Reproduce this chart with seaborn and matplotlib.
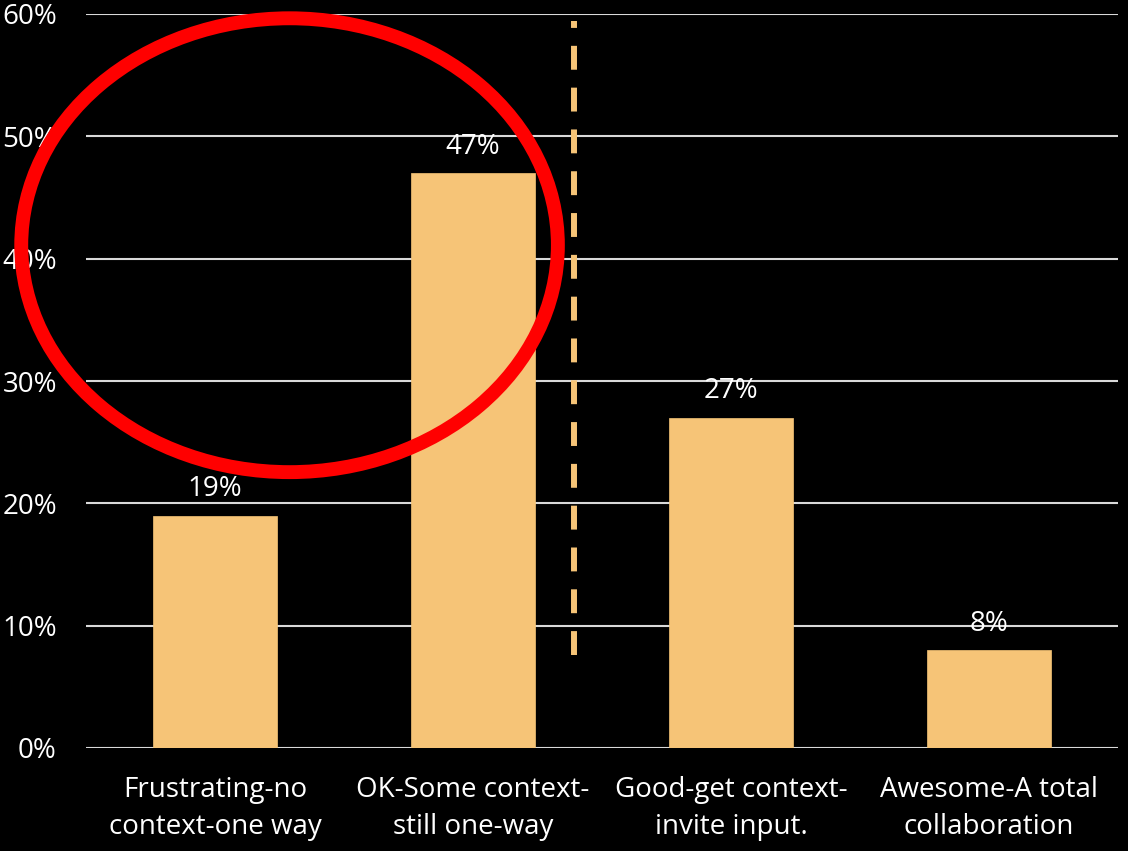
import matplotlib
matplotlib.use("Agg")
import matplotlib.pyplot as plt
import seaborn as sns
import pandas as pd
from matplotlib.patches import Ellipse
from matplotlib.ticker import PercentFormatter

# Survey results
categories = ["Frustrating-no\ncontext-one way", "OK-Some context-\nstill one-way",
              "Good-get context-\ninvite input.", "Awesome-A total\ncollaboration"]
shares = [19, 47, 27, 8]

df = pd.DataFrame({"Category": categories, "Share": shares})

sns.set_style("dark")
plt.rcParams["font.family"] = ["Open Sans", "DejaVu Sans"]

bar_color = "#F6C477"

fig = plt.figure(figsize=(11.28, 8.51), dpi=100, facecolor="black")
ax = fig.add_axes([86 / 1128, 1 - 748 / 851, 1032 / 1128, 734 / 851])
ax.set_facecolor("black")

sns.barplot(x="Category", y="Share", data=df, color=bar_color, width=0.48,
            saturation=1, ax=ax, zorder=3, edgecolor=bar_color, linewidth=0.5)

for p, v in zip(ax.patches, shares):
    ax.annotate(f"{v}%", (p.get_x() + p.get_width() / 2, p.get_height()),
                xytext=(0, 9), textcoords="offset points", ha="center", va="bottom",
                color="white", fontsize=20, zorder=4)

ax.set_ylim(0, 60)
ax.set_xlim(-0.5, 3.5)
ax.set_yticks(range(0, 61, 10))
ax.yaxis.set_major_formatter(PercentFormatter(decimals=0))
ax.grid(axis="y", color="#D9D9D9", linewidth=1.5, zorder=0)
ax.grid(axis="x", visible=False)
ax.set_axisbelow(True)
for s in ax.spines.values():
    s.set_visible(False)
ax.tick_params(axis="y", length=0, pad=21, labelsize=20, labelcolor="white")
ax.tick_params(axis="x", length=0, pad=20, labelsize=20, labelcolor="white")
for t in ax.get_xticklabels():
    t.set_linespacing(1.42)
ax.set_xlabel("")
ax.set_ylabel("")

# dashed divider between "one-way" and collaborative groups
ax.plot([1.39, 1.39], [7.6, 59.4], linestyle=(0, (4, 3)), color=bar_color,
        linewidth=4.3, zorder=4, clip_on=False)

# red highlight ellipse
ax.add_patch(Ellipse((0.289, 41.1), 2.08, 37.1, fill=False, edgecolor="#FF0000",
                     linewidth=10, zorder=5, clip_on=False))

fig.savefig("out.png", dpi=100, facecolor="black")
